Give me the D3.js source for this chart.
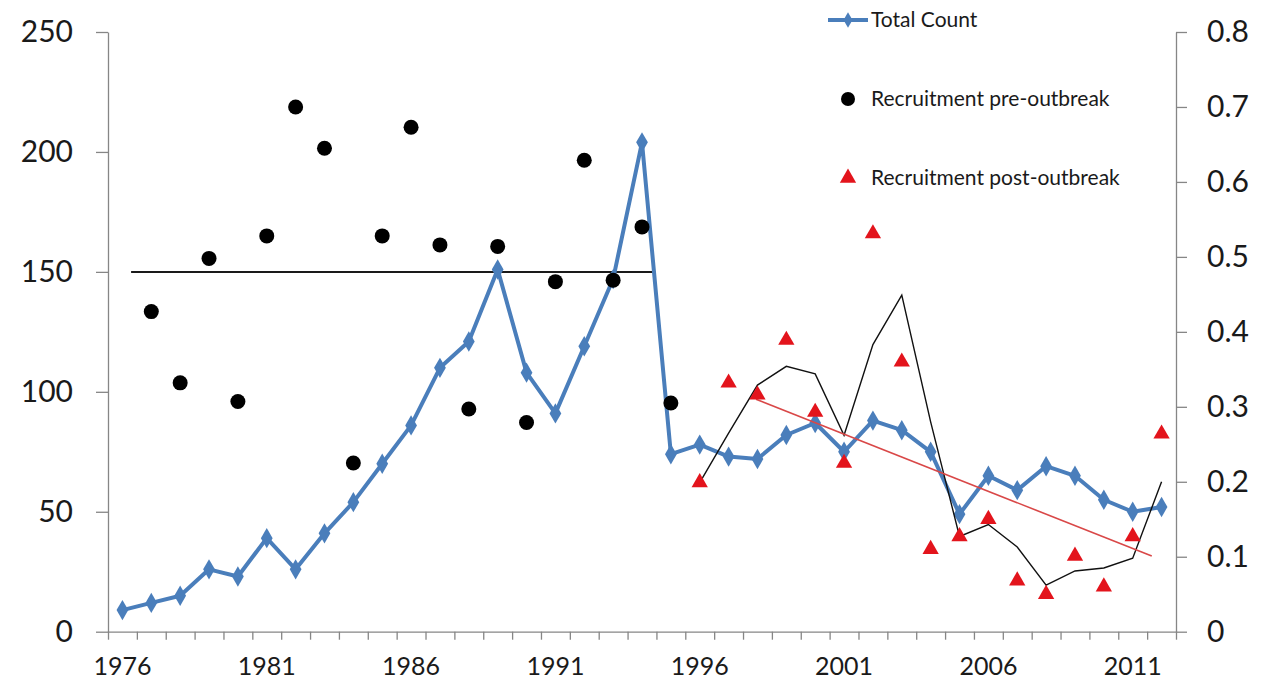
<!DOCTYPE html>
<html>
<head>
<meta charset="utf-8">
<script src="https://cdn.jsdelivr.net/npm/d3@7"></script>
<style>
  html, body { margin: 0; padding: 0; background: #fff; }
  svg { display: block; font-family: Lato, "Open Sans", sans-serif; }
  .axis path, .axis line { stroke: #868686; stroke-width: 1.3; }
  .axis text { fill: #1a1a1a; }
</style>
</head>
<body>
<svg id="chart" width="1268" height="679"></svg>
<script>
// Years on the category axis
const years = [1976, 1977, 1978, 1979, 1980, 1981, 1982, 1983, 1984, 1985,
               1986, 1987, 1988, 1989, 1990, 1991, 1992, 1993, 1994, 1995,
               1996, 1997, 1998, 1999, 2000, 2001, 2002, 2003, 2004, 2005,
               2006, 2007, 2008, 2009, 2010, 2011, 2012];
const yearLabels = [1976, 1981, 1986, 1991, 1996, 2001, 2006, 2011];

// Total count (left axis)
const totalCount = [9, 12, 15, 26, 23, 39, 26, 41, 54, 70,
                    86, 110, 121, 151, 108, 91, 119, 147, 204, 74,
                    78, 73, 72, 82, 87, 75, 88, 84, 75, 49,
                    65, 59, 69, 65, 55, 50, 52];

// Recruitment before the outbreak (right axis)
const preYears = [1977, 1978, 1979, 1980, 1981, 1982, 1983, 1984, 1985, 1986,
                  1987, 1988, 1989, 1990, 1991, 1992, 1993, 1994, 1995];
const preRecruitment = [0.427, 0.332, 0.498, 0.307, 0.528, 0.700, 0.645, 0.225, 0.528, 0.673,
                        0.516, 0.297, 0.514, 0.279, 0.467, 0.629, 0.469, 0.540, 0.305];

// Recruitment after the outbreak (right axis)
const postYears = [1996, 1997, 1998, 1999, 2000, 2001, 2002, 2003, 2004, 2005,
                   2006, 2007, 2008, 2009, 2010, 2011, 2012];
const postRecruitment = [0.199, 0.332, 0.316, 0.389, 0.293, 0.225, 0.531, 0.360, 0.110, 0.127,
                         0.150, 0.068, 0.050, 0.101, 0.060, 0.127, 0.264];

// Smoothed post-outbreak recruitment (thin black line, right axis)
const postSmoothed = [0.199, 0.265, 0.329, 0.354, 0.344, 0.262, 0.383, 0.449, 0.280, 0.127,
                      0.143, 0.113, 0.062, 0.081, 0.085, 0.098, 0.200];

// Pre-outbreak mean level and post-outbreak linear trend (right axis)
const meanYears = [1976.3, 1994.4];
const meanLevel = [0.48, 0.48];
const trendYears = [1997.95, 2011.66];
const trendLevel = [0.31, 0.101];

const leftTicks = [0, 50, 100, 150, 200, 250];
const rightTicks = [0, 0.1, 0.2, 0.3, 0.4, 0.5, 0.6, 0.7, 0.8];

const FONT = "Lato, 'Open Sans', sans-serif";
const svg = d3.select("#chart");
const plot = { left: 108, right: 1176, top: 32, bottom: 631.7 };

const x = d3.scaleBand().domain(years).range([plot.left, plot.right]).padding(0);
const bw = x.bandwidth();
const cx = yr => x(yr) + bw / 2;
// continuous year position for reference lines between category centres
const xYear = d3.scaleLinear()
  .domain([years[0], years[years.length - 1]])
  .range([cx(years[0]), cx(years[years.length - 1])]);
const yL = d3.scaleLinear().domain([0, 250]).range([plot.bottom, plot.top]);
const yR = d3.scaleLinear().domain([0, 0.8]).range([plot.bottom, plot.top]);

// Axes
const gLeft = svg.append("g").attr("class", "axis")
  .attr("transform", `translate(${plot.left},0)`)
  .call(d3.axisLeft(yL).tickValues(leftTicks).tickSize(12).tickPadding(23).tickSizeOuter(0));
gLeft.attr("font-family", FONT).attr("font-size", 30);

const gRight = svg.append("g").attr("class", "axis")
  .attr("transform", `translate(${plot.right},0)`)
  .call(d3.axisRight(yR).tickValues(rightTicks).tickSize(11).tickPadding(20)
    .tickSizeOuter(0).tickFormat(d => d === 0 ? "0" : d3.format(".1f")(d)));
gRight.attr("font-family", FONT).attr("font-size", 30);

// category boundary ticks
const boundary = d3.scaleLinear().domain([0, years.length]).range([plot.left, plot.right]);
svg.append("g").attr("class", "axis")
  .attr("transform", `translate(0,${plot.bottom})`)
  .call(d3.axisBottom(boundary).tickValues(d3.range(0, years.length + 1))
    .tickSize(8).tickSizeOuter(0).tickFormat(""));
const gBottom = svg.append("g").attr("class", "axis")
  .attr("transform", `translate(0,${plot.bottom})`)
  .call(d3.axisBottom(x).tickValues(yearLabels).tickSize(0).tickPadding(26));
gBottom.select(".domain").remove();
gBottom.attr("font-family", FONT).attr("font-size", 25);

// Pre-outbreak mean line
const meanData = meanYears.map((yr, i) => [yr, meanLevel[i]]);
svg.append("path")
  .datum(meanData)
  .attr("fill", "none").attr("stroke", "#1a1a1a").attr("stroke-width", 2)
  .attr("d", d3.line().x(d => xYear(d[0])).y(d => yR(d[1])));

// Total count line with diamond markers
const countData = years.map((yr, i) => [yr, totalCount[i]]);
svg.append("path")
  .datum(countData)
  .attr("fill", "none").attr("stroke", "#4A7EBB").attr("stroke-width", 4)
  .attr("stroke-linejoin", "round")
  .attr("d", d3.line().x(d => cx(d[0])).y(d => yL(d[1])));
const diamond = d3.symbol().type(d3.symbolDiamond).size(120);
svg.append("g").selectAll("path").data(countData).join("path")
  .attr("transform", d => `translate(${cx(d[0])},${yL(d[1])})`)
  .attr("d", diamond)
  .attr("fill", "#4A7EBB");

// Smoothed post-outbreak line
const smoothData = postYears.map((yr, i) => [yr, postSmoothed[i]]);
svg.append("path")
  .datum(smoothData)
  .attr("fill", "none").attr("stroke", "#111").attr("stroke-width", 1.4)
  .attr("d", d3.line().x(d => cx(d[0])).y(d => yR(d[1])));

// Post-outbreak trend line
const trendData = trendYears.map((yr, i) => [yr, trendLevel[i]]);
svg.append("path")
  .datum(trendData)
  .attr("fill", "none").attr("stroke", "#D94848").attr("stroke-width", 1.6)
  .attr("d", d3.line().x(d => xYear(d[0])).y(d => yR(d[1])));

// Pre-outbreak recruitment points
svg.append("g").selectAll("circle").data(preYears.map((yr, i) => [yr, preRecruitment[i]]))
  .join("circle")
  .attr("cx", d => cx(d[0])).attr("cy", d => yR(d[1])).attr("r", 7.5)
  .attr("fill", "#000");

// Post-outbreak recruitment points
const tri = d3.symbol().type(d3.symbolTriangle).size(115);
svg.append("g").selectAll("path").data(postYears.map((yr, i) => [yr, postRecruitment[i]]))
  .join("path")
  .attr("transform", d => `translate(${cx(d[0])},${yR(d[1])})`)
  .attr("d", tri)
  .attr("fill", "#E3141C");

// Legend
const legend = svg.append("g").attr("font-size", 21).attr("fill", "#1a1a1a");
legend.append("line").attr("x1", 828).attr("x2", 868).attr("y1", 20).attr("y2", 20)
  .attr("stroke", "#4A7EBB").attr("stroke-width", 4);
legend.append("path").attr("transform", "translate(848,20)")
  .attr("d", d3.symbol().type(d3.symbolDiamond).size(70)).attr("fill", "#4A7EBB");
legend.append("text").attr("x", 871).attr("y", 20).attr("dy", "0.35em").text("Total Count");

legend.append("circle").attr("cx", 848).attr("cy", 99).attr("r", 7).attr("fill", "#000");
legend.append("text").attr("x", 871).attr("y", 99).attr("dy", "0.35em").text("Recruitment pre-outbreak");

legend.append("path").attr("transform", "translate(848,178)")
  .attr("d", d3.symbol().type(d3.symbolTriangle).size(115)).attr("fill", "#E3141C");
legend.append("text").attr("x", 871).attr("y", 178).attr("dy", "0.35em").text("Recruitment post-outbreak");
</script>
</body>
</html>
